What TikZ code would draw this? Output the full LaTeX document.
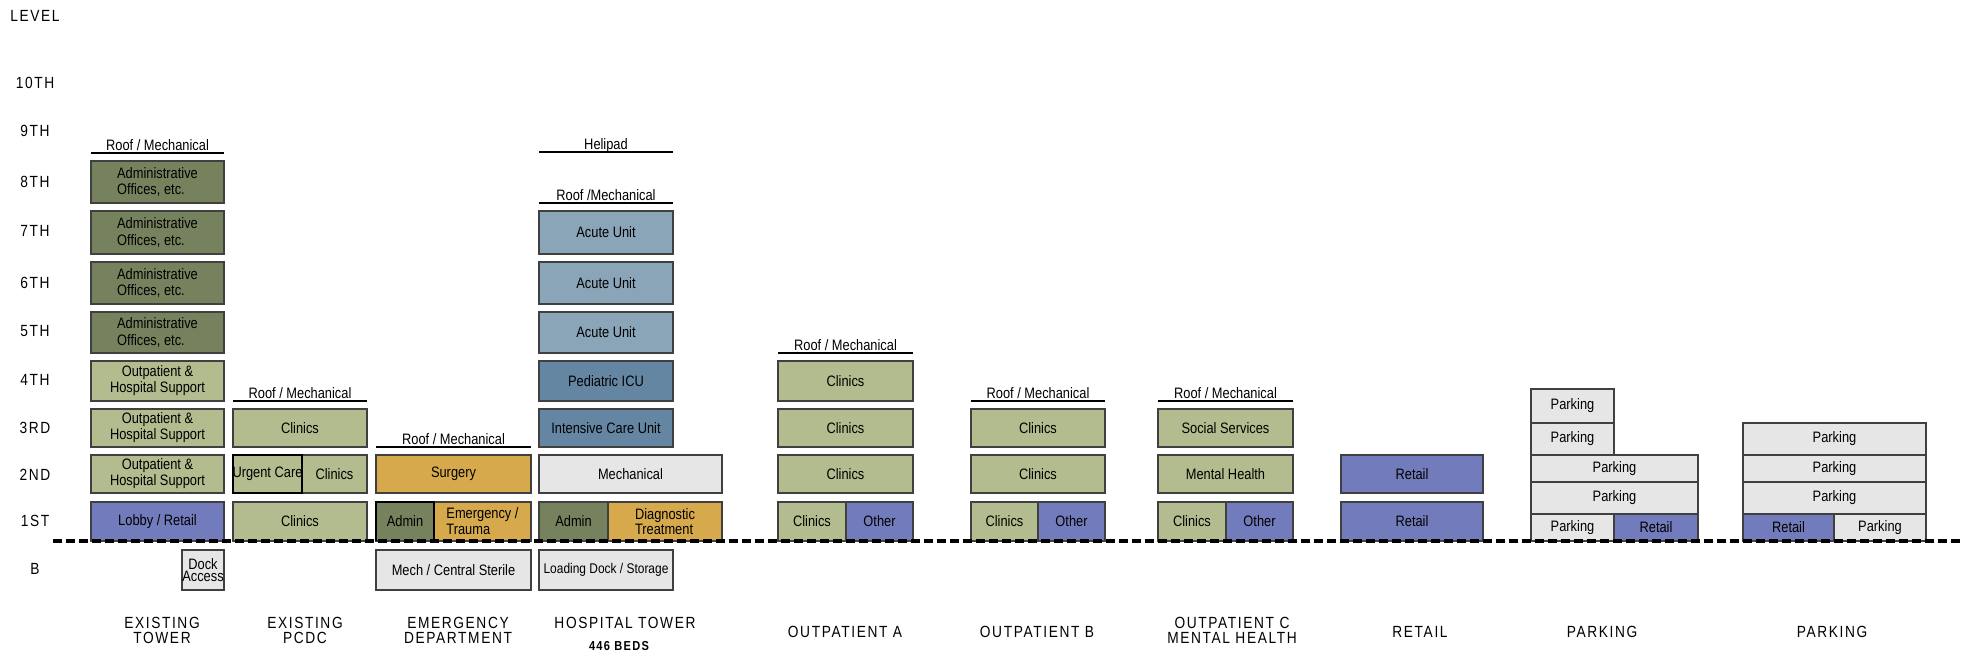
\documentclass[tikz,border=0pt]{standalone}
\usepackage{fontspec}
\setmainfont[FakeStretch=0.85]{Liberation Sans}
\newfontfamily\capfont[LetterSpace=10,FakeStretch=0.85]{Liberation Sans}

\definecolor{adminolive}{RGB}{118,130,93}
\definecolor{clinicgreen}{RGB}{178,188,142}
\definecolor{retailblue}{RGB}{114,124,188}
\definecolor{acuteblue}{RGB}{138,165,184}
\definecolor{icublue}{RGB}{101,134,163}
\definecolor{surggold}{RGB}{214,170,76}
\definecolor{mechgrey}{RGB}{230,230,230}

% \room[text options]{name}{x1}{y1}{x2}{y2}{fill}{text}
\newcommand{\room}[8][]{%
  \draw[room, fill=#7] (#3,#4) rectangle (#5,#6);
  \node[roomtext, #1] (#2) at ({(#3+#5)/2}, {(#4+#6)/2}) {#8};}
% \roofline{name}{x1}{x2}{y}{text}
\newcommand{\roofline}[5]{%
  \draw[roof] (#2,#4) -- (#3,#4);
  \node[roomtext, anchor=base] (#1) at ({(#2+#3)/2}, {#4-3}) {#5};}

\begin{document}
\begin{tikzpicture}[x=0.02cm, y=-0.02cm,
  room/.style={draw=black!75, line width=0.8pt},
  roomtext/.style={font=\fontsize{8.6}{9.2}\selectfont, align=center, inner sep=0pt},
  tight/.style={font=\fontsize{8.6}{6.8}\selectfont},
  snug/.style={font=\fontsize{8}{8}\selectfont},
  roof/.style={line width=1.1pt},
  ground/.style={line width=2.3pt, dash pattern=on 0.18cm off 0.08cm},
  levellabel/.style={font=\capfont\fontsize{9.2}{9}\selectfont, inner sep=0pt},
  bldg/.style={font=\capfont\fontsize{9.2}{8.5}\selectfont, align=center, inner sep=0pt}]
\useasboundingbox (0,0) rectangle (1961,656);

% existing tower
\roofline{et-roof}{91}{224}{153}{Roof / Mechanical}
\foreach \n/\t/\b in {8/161/203, 7/211/254, 6/262/304, 5/312/353}{
  \room[align=left]{et-\n}{91}{\t}{224}{\b}{adminolive}{Administrative\\Offices, etc.}
}
\foreach \n/\t/\b in {4/361/401, 3/409/447, 2/455/493}{
  \room{et-\n}{91}{\t}{224}{\b}{clinicgreen}{Outpatient \&\\Hospital Support}
}
\room{et-1}{91}{502}{224}{541}{retailblue}{Lobby / Retail}
\room[tight]{et-b}{182}{550}{224}{590}{mechgrey}{Dock\\Access}

% existing pcdc
\roofline{pc-roof}{233}{367}{401}{Roof / Mechanical}
\room{pc-3}{233}{409}{367}{447}{clinicgreen}{Clinics}
\room{pc-2b}{302}{455}{367}{493}{clinicgreen}{Clinics}
\room{pc-2a}{233}{455}{302}{493}{clinicgreen}{Urgent Care}
\draw[line width=1.1pt] (233,455) rectangle (302,493);
\room{pc-1}{233}{502}{367}{541}{clinicgreen}{Clinics}

% emergency department
\roofline{ed-roof}{376}{531}{447}{Roof / Mechanical}
\room{ed-2}{376}{455}{531}{493}{surggold}{Surgery}
\room[align=left]{ed-1b}{434}{502}{531}{541}{surggold}{Emergency /\\Trauma}
\room{ed-1a}{376}{502}{434}{541}{adminolive}{Admin}
\draw[line width=1pt] (376,541) |- (434,502) -- (434,541);
\room{ed-b}{376}{550}{531}{590}{mechgrey}{Mech / Central Sterile}

% hospital tower
\roofline{ht-heli}{539}{673}{152}{Helipad}
\roofline{ht-roof}{539}{673}{203}{Roof /Mechanical}
\foreach \n/\t/\b in {7/211/254, 6/262/304, 5/312/353}{
  \room{ht-\n}{539}{\t}{673}{\b}{acuteblue}{Acute Unit}
}
\room{ht-4}{539}{361}{673}{401}{icublue}{Pediatric ICU}
\room{ht-3}{539}{409}{673}{447}{icublue}{Intensive Care Unit}
\room{ht-2}{539}{455}{722}{493}{mechgrey}{Mechanical}
\room{ht-1a}{539}{502}{608}{541}{adminolive}{Admin}
\room[tight, align=left]{ht-1b}{608}{502}{722}{541}{surggold}{Diagnostic\\Treatment}
\room[snug]{ht-b}{539}{550}{673}{590}{mechgrey}{Loading Dock / Storage}

% outpatient a
\roofline{oa-roof}{778}{913}{353}{Roof / Mechanical}
\foreach \n/\t/\b in {4/361/401, 3/409/447, 2/455/493}{
  \room{oa-\n}{778}{\t}{913}{\b}{clinicgreen}{Clinics}
}
\room{oa-1a}{778}{502}{846}{541}{clinicgreen}{Clinics}
\room{oa-1b}{846}{502}{913}{541}{retailblue}{Other}

% outpatient b
\roofline{ob-roof}{971}{1105}{401}{Roof / Mechanical}
\foreach \n/\t/\b in {3/409/447, 2/455/493}{
  \room{ob-\n}{971}{\t}{1105}{\b}{clinicgreen}{Clinics}
}
\room{ob-1a}{971}{502}{1038}{541}{clinicgreen}{Clinics}
\room{ob-1b}{1038}{502}{1105}{541}{retailblue}{Other}

% outpatient c
\roofline{oc-roof}{1158}{1293}{401}{Roof / Mechanical}
\room{oc-3}{1158}{409}{1293}{447}{clinicgreen}{Social Services}
\room{oc-2}{1158}{455}{1293}{493}{clinicgreen}{Mental Health}
\room{oc-1a}{1158}{502}{1226}{541}{clinicgreen}{Clinics}
\room{oc-1b}{1226}{502}{1293}{541}{retailblue}{Other}

% retail
\room{rt-2}{1341}{455}{1483}{493}{retailblue}{Retail}
\room{rt-1}{1341}{502}{1483}{541}{retailblue}{Retail}

% parking
\room{pa-5}{1531}{389}{1614}{423}{mechgrey}{Parking}
\room{pa-4}{1531}{423}{1614}{455}{mechgrey}{Parking}
\room{pa-3}{1531}{455}{1698}{482}{mechgrey}{Parking}
\room{pa-2}{1531}{482}{1698}{514}{mechgrey}{Parking}
\room{pa-1a}{1531}{514}{1614}{541}{mechgrey}{Parking}
\room{pa-1b}{1614}{514}{1698}{541}{retailblue}{Retail}

\room{pb-4}{1743}{423}{1926}{455}{mechgrey}{Parking}
\room{pb-3}{1743}{455}{1926}{482}{mechgrey}{Parking}
\room{pb-2}{1743}{482}{1926}{514}{mechgrey}{Parking}
\room{pb-1a}{1743}{514}{1834}{541}{retailblue}{Retail}
\room{pb-1b}{1834}{514}{1926}{541}{mechgrey}{Parking}

% grade
\draw[ground] (53,541) -- (1961,541);

% levels
\foreach \lab/\yy in {LEVEL/16, 10TH/83, 9TH/131, 8TH/182, 7TH/231, 6TH/283, 5TH/331,
    4TH/380, 3RD/428, 2ND/475, 1ST/521, B/569}{
  \node[levellabel] (lv-\lab) at (35,\yy) {\lab};
}

% buildings
\node[bldg] (b-et) at (162,630) {EXISTING\\TOWER};
\node[bldg] (b-pc) at (305,630) {EXISTING\\PCDC};
\node[bldg] (b-ed) at (458,630) {EMERGENCY\\DEPARTMENT};
\node[bldg] (b-ht) at (625,623) {HOSPITAL TOWER};
\node[bldg, font=\capfont\bfseries\fontsize{7.4}{7}\selectfont] (b-beds) at (619,646) {446 BEDS};
\node[bldg] (b-oa) at (845,632) {OUTPATIENT A};
\node[bldg] (b-ob) at (1037,632) {OUTPATIENT B};
\node[bldg] (b-oc) at (1232,630) {OUTPATIENT C\\MENTAL HEALTH};
\node[bldg] (b-rt) at (1420,632) {RETAIL};
\node[bldg] (b-pa) at (1602,632) {PARKING};
\node[bldg] (b-pb) at (1832,632) {PARKING};
\end{tikzpicture}
\end{document}
